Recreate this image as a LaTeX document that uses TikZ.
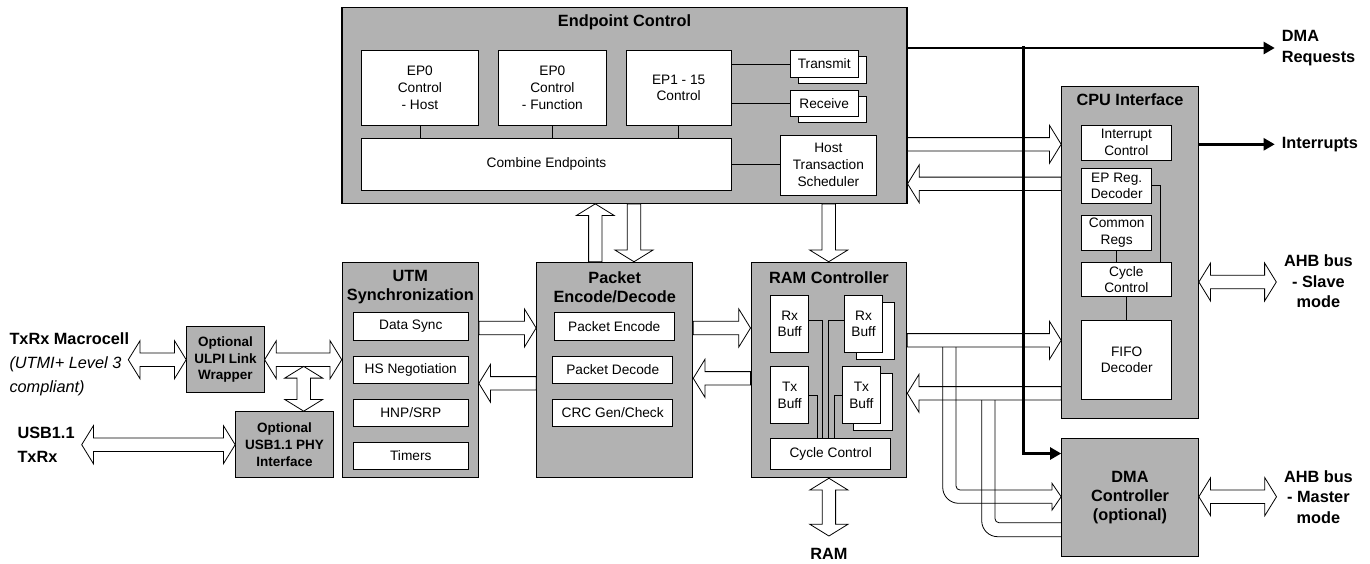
\documentclass[tikz,border=0pt]{standalone}
\usepackage{fontspec}
\setmainfont{Liberation Sans}
\usetikzlibrary{calc,arrows.meta}

\definecolor{blockgray}{RGB}{178,178,178}

\newcommand{\boxfont}{\fontsize{13.7}{16.7}\selectfont}
\newcommand{\unittitle}{\fontsize{16.3}{19}\selectfont\bfseries}
\newcommand{\smallbold}{\fontsize{13.5}{16.7}\selectfont\bfseries}
\newcommand{\sidefont}{\fontsize{16.3}{20.5}\selectfont\bfseries}

% hollow block arrow, tail #1, tip #2
\newcommand{\blockarrow}[2]{%
	\coordinate (hb) at ($#2!11.7pt!#1$);
	\draw[hollow] ($#1!6.7pt!90:#2$) -- ($(hb)!6.7pt!90:#2$) -- ($(hb)!19pt!90:#2$) -- #2 -- ($(hb)!19pt!-90:#2$) -- ($(hb)!6.7pt!-90:#2$) -- ($#1!6.7pt!-90:#2$) -- cycle;}
% hollow block arrow with two heads
\newcommand{\dblarrow}[2]{%
	\coordinate (ha) at ($#1!11.7pt!#2$);
	\coordinate (hb) at ($#2!11.7pt!#1$);
	\draw[hollow] #1 -- ($(ha)!19pt!90:#2$) -- ($(ha)!6.7pt!90:#2$) -- ($(hb)!6.7pt!-90:#1$) -- ($(hb)!19pt!-90:#1$) -- #2 -- ($(hb)!19pt!90:#1$) -- ($(hb)!6.7pt!90:#1$) -- ($(ha)!6.7pt!-90:#2$) -- ($(ha)!19pt!-90:#2$) -- cycle;}

\begin{document}
\begin{tikzpicture}[x=1pt, y=-1pt,
	unitbox/.style={rectangle, draw, fill=blockgray, line width=1.1pt, inner sep=0pt},
	subbox/.style={rectangle, draw, fill=white, line width=0.8pt, inner sep=0pt, align=center, font=\boxfont},
	ttl/.style={font=\unittitle, align=center, inner sep=0pt},
	side/.style={font=\sidefont, inner sep=0pt},
	hollow/.style={draw, fill=white, line width=0.8pt},
	wire/.style={line width=0.8pt},
	pipe/.style={line width=0.8pt},
	bus/.style={line width=2.4pt, -{Triangle[length=11pt,width=12pt]}}]
		\useasboundingbox (0, 0) rectangle (1370, 563);
		\fill[white] (0, 0) rectangle (1370, 563);

		% main units
		\draw
		(624.5, 105.3) node [unitbox, minimum width=565pt, minimum height=196pt] (ep) {}
		(410.3, 370) node [unitbox, minimum width=136pt, minimum height=215.4pt] (utm) {}
		(614.7, 370) node [unitbox, minimum width=156pt, minimum height=215.4pt] (pkt) {}
		(828.9, 370) node [unitbox, minimum width=155.7pt, minimum height=215.4pt] (ram) {}
		(1130, 252.2) node [unitbox, minimum width=136.6pt, minimum height=332.3pt] (cpu) {}
		(1130, 497.2) node [unitbox, minimum width=136.6pt, minimum height=117.7pt, font=\unittitle, align=center] (dma) {DMA\\Controller\\(optional)}
		(225.4, 359.7) node [unitbox, minimum width=77.3pt, minimum height=66pt, font=\smallbold, align=center] (ulpi) {Optional\\ULPI Link\\Wrapper}
		(284.5, 444.7) node [unitbox, minimum width=97.6pt, minimum height=66pt, font=\smallbold, align=center] (phy) {Optional\\USB1.1 PHY\\Interface};

		\draw
		(624.5, 22.7) node [ttl] (epT) {Endpoint Control}
		(410.3, 286.8) node [ttl] (utmT) {UTM\\Synchronization}
		(614.7, 286.8) node [ttl] (pktT) {Packet\\Encode/Decode}
		(828.9, 277.3) node [ttl] (ramT) {RAM Controller}
		(1130, 100) node [ttl] (cpuT) {CPU Interface};

		% endpoint control
		\draw
		(419.9, 87.85) node [subbox, minimum width=116.6pt, minimum height=74.3pt] (ep0h) {EP0\\Control\\- Host}
		(552.35, 87.85) node [subbox, minimum width=108.7pt, minimum height=74.3pt] (ep0f) {EP0\\Control\\- Function}
		(678.65, 87.85) node [subbox, minimum width=105.3pt, minimum height=74.3pt] (ep115) {EP1 - 15\\Control}
		(546.45, 164.15) node [subbox, minimum width=369.7pt, minimum height=51.7pt] (comb) {Combine Endpoints}
		(828.35, 165) node [subbox, minimum width=96.7pt, minimum height=60pt] (hts) {Host\\Transaction\\Scheduler}
		(832.2, 70) node [subbox, minimum width=68.3pt, minimum height=26.6pt] (txB) {}
		(824.2, 64) node [subbox, minimum width=68.3pt, minimum height=26.6pt] (tx) {Transmit}
		(832.2, 109.35) node [subbox, minimum width=68.3pt, minimum height=26.6pt] (rxB) {}
		(824.2, 103.35) node [subbox, minimum width=68.3pt, minimum height=26.6pt] (rx) {Receive};
		\draw[wire] (ep0h.south) -- (ep0h.south |- comb.north);
		\draw[wire] (ep0f.south) -- (ep0f.south |- comb.north);
		\draw[wire] (ep115.south) -- (ep115.south |- comb.north);
		\draw[wire] (ep115.east |- tx) -- (tx.west);
		\draw[wire] (ep115.east |- rx) -- (rx.west);
		\draw[wire] (comb.east) -- (comb.east -| hts.west);

		% utm and packet
		\draw
		(410.8, 326.35) node [subbox, minimum width=115pt, minimum height=27.3pt] (dsync) {Data Sync}
		(410.8, 369.65) node [subbox, minimum width=115pt, minimum height=27.3pt] (hsneg) {HS Negotiation}
		(410.8, 412.65) node [subbox, minimum width=115pt, minimum height=27.3pt] (hnp) {HNP/SRP}
		(410.8, 455.65) node [subbox, minimum width=115pt, minimum height=27.3pt] (timers) {Timers}
		(614.3, 326.35) node [subbox, minimum width=120pt, minimum height=27.3pt] (penc) {Packet Encode}
		(612.7, 369.65) node [subbox, minimum width=120pt, minimum height=27.3pt] (pdec) {Packet Decode}
		(612.7, 412.65) node [subbox, minimum width=120pt, minimum height=27.3pt] (crc) {CRC Gen/Check};

		% ram controller
		\draw
		(789.7, 323.85) node [subbox, minimum width=38pt, minimum height=56.3pt] (rxl) {Rx\\Buff}
		(875.2, 330.85) node [subbox, minimum width=38.4pt, minimum height=56.3pt] (rxrB) {}
		(863.5, 323.85) node [subbox, minimum width=38.4pt, minimum height=56.3pt] (rxr) {Rx\\Buff}
		(789.7, 395) node [subbox, minimum width=38pt, minimum height=56.6pt] (txl) {Tx\\Buff}
		(872.85, 402) node [subbox, minimum width=38.7pt, minimum height=56.6pt] (txrB) {}
		(861.35, 395) node [subbox, minimum width=38.7pt, minimum height=56.6pt] (txr) {Tx\\Buff}
		(830.7, 453.8) node [subbox, minimum width=120pt, minimum height=31pt] (rcyc) {Cycle Control};
		\draw[wire] ([yshift=3pt]rxl.east) -| ([xshift=-8.4pt]rcyc.north);
		\draw[wire] ([yshift=3pt]rxr.west) -| ([xshift=-2.4pt]rcyc.north);
		\draw[wire] (txl.east) -| ([xshift=-13.4pt]rcyc.north);
		\draw[wire] (txr.west) -| ([xshift=3.3pt]rcyc.north);

		% cpu interface
		\draw
		(1126.35, 142.5) node [subbox, minimum width=89.3pt, minimum height=35pt] (intc) {Interrupt\\Control}
		(1116.7, 185.8) node [subbox, minimum width=70pt, minimum height=35pt] (epreg) {EP Reg.\\Decoder}
		(1116.7, 232.5) node [subbox, minimum width=70pt, minimum height=35pt] (creg) {Common\\Regs}
		(1126.35, 279.5) node [subbox, minimum width=89.3pt, minimum height=34.4pt] (ccyc) {Cycle\\Control}
		(1126.7, 359.85) node [subbox, minimum width=90pt, minimum height=78.3pt] (fifo) {FIFO\\Decoder};
		\draw[wire] (epreg.east) -| ([xshift=33.7pt]ccyc.north);
		\draw[wire] (creg.south) -- (creg.south |- ccyc.north);
		\draw[wire] (ccyc.south) -- (ccyc.south |- fifo.north);

		% outside labels
		\draw
		(9.3, 364) node [side, anchor=west, align=left, font=\fontsize{16.3}{24.2}\selectfont] (txrxL) {\textbf{TxRx Macrocell}\\\textit{(UTMI+ Level 3}\\\textit{compliant)}}
		(17.3, 444.8) node [side, anchor=west, align=left, font=\fontsize{16.3}{24.3}\selectfont\bfseries] (usbL) {USB1.1\\TxRx}
		(1274.7, 48) node [side, anchor=west, align=left, inner sep=7pt] (dmaL) {DMA\\Requests}
		(1274.7, 144.3) node [side, anchor=west, inner sep=7pt] (intL) {Interrupts}
		(1318.4, 281.5) node [side, align=center] (ahbsL) {AHB bus\\- Slave\\mode}
		(1318.4, 497) node [side, align=center] (ahbmL) {AHB bus\\- Master\\mode}
		(828.9, 554) node [side] (ramL) {RAM};

		\coordinate (txrxEnd) at (128.3, 359.7);
		\coordinate (usbEnd) at (81.7, 444.7);
		\coordinate (ulpiTap) at (303.7, 366.4);
		\coordinate (ramEnd) at (828.9, 536);
		\coordinate (ahbsEnd) at (1276.3, 282);
		\coordinate (ahbmEnd) at (1276.5, 496.7);
		\coordinate (dmaSplit) at (1023.3, 46.3);

		% data paths
		\dblarrow{(txrxEnd)}{(ulpi.west)}
		\dblarrow{(ulpi.east)}{(utm.west |- ulpi.east)}
		\dblarrow{(ulpiTap)}{(phy.north -| ulpiTap)}
		\dblarrow{(usbEnd)}{(phy.west)}
		\blockarrow{(utm.east |- 0,328)}{(pkt.west |- 0,328)}
		\blockarrow{(pkt.west |- 0,383.3)}{(utm.east |- 0,383.3)}
		\blockarrow{(pkt.east |- 0,328)}{(ram.west |- 0,328)}
		\blockarrow{(ram.west |- 0,378.3)}{(pkt.east |- 0,378.3)}
		\blockarrow{(pkt.north -| 595.3,0)}{(ep.south -| 595.3,0)}
		\blockarrow{(ep.south -| 634,0)}{(pkt.north -| 634,0)}
		\blockarrow{(ep.south -| 828.7,0)}{(ram.north -| 828.7,0)}
		\blockarrow{(ep.east |- 0,144.3)}{(cpu.west |- 0,144.3)}
		\blockarrow{(cpu.west |- 0,183.8)}{(ep.east |- 0,183.8)}
		\blockarrow{(ram.east |- 0,340.3)}{(cpu.west |- 0,340.3)}
		\blockarrow{(cpu.west |- 0,393.3)}{(ram.east |- 0,393.3)}
		\dblarrow{(ram.south)}{(ramEnd)}
		\dblarrow{(cpu.east |- ahbsEnd)}{(ahbsEnd)}
		\dblarrow{(dma.east |- ahbmEnd)}{(ahbmEnd)}

		% branches to the dma controller
		\draw[pipe, rounded corners=4pt] (956, 347) |- (1052, 490);
		\draw[pipe, rounded corners=16pt] (942.7, 347) |- (1052, 503.3);
		\draw[pipe] (1052, 490) -- (1052, 483.3) -- (dma.west |- 0,496.7) -- (1052, 510.1) -- (1052, 503.3);
		\draw[pipe, rounded corners=4pt] (995, 400) |- (dma.west |- 0,522.7);
		\draw[pipe, rounded corners=16pt] (981.7, 400) |- (dma.west |- 0,536.7);

		% control signals
		\draw[bus] (ep.east |- dmaL.west) -- (dmaL.west);
		\draw[bus] (dmaSplit) |- ([yshift=-15.7pt]dma.north west);
		\draw[bus] (cpu.east |- intL.west) -- (intL.west);
	\end{tikzpicture}
\end{document}
